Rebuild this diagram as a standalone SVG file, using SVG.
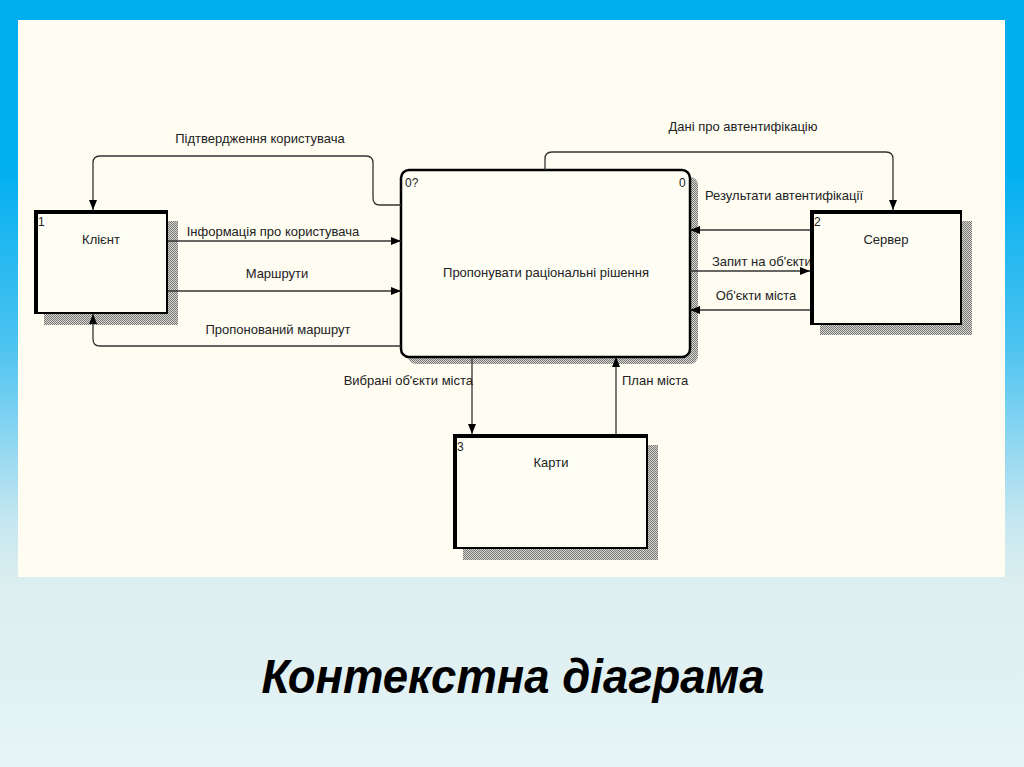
<svg xmlns="http://www.w3.org/2000/svg" width="1024" height="767" viewBox="0 0 1024 767">
<defs>
<linearGradient id="bg" x1="0" y1="0" x2="0" y2="1">
<stop offset="0" stop-color="#00aeef"/>
<stop offset="0.22" stop-color="#02aff0"/>
<stop offset="0.45" stop-color="#4cc3f0"/>
<stop offset="0.68" stop-color="#c6e7f1"/>
<stop offset="0.76" stop-color="#dceeef"/>
<stop offset="1" stop-color="#e6f4f6"/>
</linearGradient>
<pattern id="hatch" width="2" height="2" patternUnits="userSpaceOnUse">
<rect width="2" height="2" fill="#d8d8d0"/>
<rect width="1" height="1" fill="#777"/>
<rect x="1" y="1" width="1" height="1" fill="#777"/>
</pattern>
<clipPath id="clipQ"><rect x="690" y="240" width="120" height="40"/></clipPath>
<marker id="arr" markerUnits="userSpaceOnUse" markerWidth="11" markerHeight="9" refX="10" refY="4" orient="auto">
<path d="M0,0 L10,4 L0,8 z" fill="#000"/>
</marker>
<style>
.lbl{font-family:"Liberation Sans",Arial,sans-serif;font-size:13px;fill:#222}
.num{font-family:"Liberation Sans",Arial,sans-serif;font-size:12px;fill:#222}
.con{fill:none;stroke:#333;stroke-width:1.3}
.box{fill:#fffef4;stroke:#000;stroke-width:2}
.thick{fill:none;stroke:#000;stroke-width:4}
.shadow{fill:url(#hatch)}
</style>
</defs>
<rect x="0" y="0" width="1024" height="767" fill="url(#bg)"/>
<rect x="18" y="20" width="987" height="557" fill="#fffdf2"/>

<g id="client">
<rect class="shadow" x="44" y="221" width="134" height="104"/>
<rect class="box" x="35" y="211" width="132" height="102"/>
<path class="thick" d="M36,313 V212 H167"/>
<text class="num" x="38" y="226">1</text>
<text class="lbl" x="101" y="244" text-anchor="middle">Клієнт</text>
</g>

<g id="process">
<rect class="shadow" x="408" y="177" width="290" height="187" rx="8"/>
<rect x="401" y="170" width="289" height="187" rx="8" fill="#fffef4" stroke="#000" stroke-width="2.5"/>
<text class="num" x="405" y="187">0?</text>
<text class="num" x="679" y="187">0</text>
<text class="lbl" x="546" y="277" text-anchor="middle">Пропонувати раціональні рішення</text>
</g>

<g id="server">
<rect class="shadow" x="820" y="221" width="152" height="114"/>
<rect class="box" x="811" y="211" width="150" height="113"/>
<path class="thick" d="M812,324 V212 H961"/>
<text class="num" x="814" y="226">2</text>
<text class="lbl" x="886" y="244" text-anchor="middle">Сервер</text>
</g>

<g id="maps">
<rect class="shadow" x="463" y="445" width="195" height="115"/>
<rect class="box" x="454" y="435" width="193" height="113"/>
<path class="thick" d="M455,548 V436 H647"/>
<text class="num" x="457" y="451">3</text>
<text class="lbl" x="551" y="467" text-anchor="middle">Карти</text>
</g>

<g id="connectors">
<path class="con" d="M401,205 H380 Q373,205 373,198 V163 Q373,156 366,156 H100 Q93,156 93,163 V210" marker-end="url(#arr)"/>
<text class="lbl" x="260" y="143" text-anchor="middle">Підтвердження користувача</text>
<path class="con" d="M168,241 H401" marker-end="url(#arr)"/>
<text class="lbl" x="273" y="236" text-anchor="middle">Інформація про користувача</text>
<path class="con" d="M168,291 H401" marker-end="url(#arr)"/>
<text class="lbl" x="277" y="278" text-anchor="middle">Маршрути</text>
<path class="con" d="M401,346 H100 Q93,346 93,339 V314" marker-end="url(#arr)"/>
<text class="lbl" x="278" y="334" text-anchor="middle">Пропонований маршрут</text>
<path class="con" d="M545,170 V159 Q545,152 552,152 H886 Q893,152 893,159 V210" marker-end="url(#arr)"/>
<text class="lbl" x="743" y="131" text-anchor="middle">Дані про автентифікацію</text>
<path class="con" d="M810,230 H690" marker-end="url(#arr)"/>
<text class="lbl" x="784" y="200" text-anchor="middle">Результати автентифікації</text>
<path class="con" d="M690,271 H810" marker-end="url(#arr)"/>
<text class="lbl" x="712" y="266" clip-path="url(#clipQ)">Запит на об'єкти</text>
<path class="con" d="M810,310 H690" marker-end="url(#arr)"/>
<text class="lbl" x="756" y="300" text-anchor="middle">Об'єкти міста</text>
<path class="con" d="M472,357 V434" marker-end="url(#arr)"/>
<text class="lbl" x="473" y="385" text-anchor="end">Вибрані об'єкти міста</text>
<path class="con" d="M616,434 V357" marker-end="url(#arr)"/>
<text class="lbl" x="622" y="385">План міста</text>
</g>

<text x="513" y="693" text-anchor="middle" font-family="'Liberation Sans',Arial,sans-serif" font-size="48" font-weight="bold" font-style="italic" fill="#000" textLength="503" lengthAdjust="spacingAndGlyphs">Контекстна діаграма</text>
</svg>
